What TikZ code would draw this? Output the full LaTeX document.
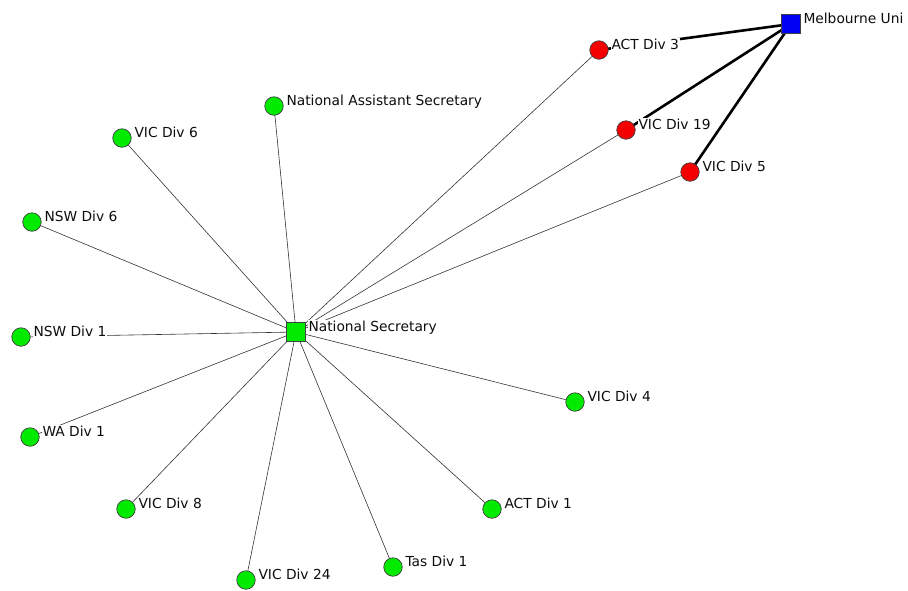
\documentclass[tikz,border=0pt]{standalone}
\usepackage{fontspec}
\setmainfont{DejaVu Sans}
\usetikzlibrary{calc}
\pgfdeclarelayer{edges}
\pgfdeclarelayer{labels}
\pgfsetlayers{edges,labels,main}
\definecolor{nodegreen}{RGB}{0,235,0}
\definecolor{nodered}{RGB}{245,0,0}
\definecolor{nodeblue}{RGB}{0,0,245}
\tikzset{
  member/.style={circle, minimum size=18.5pt, inner sep=0pt, draw=black!75, line width=0.7pt},
  office/.style={rectangle, minimum size=18.5pt, inner sep=0pt, draw=black!75, line width=0.7pt},
  lbl/.style={anchor=base west, fill=white, inner sep=0.8pt, font=\fontsize{13.8}{15}\selectfont, text=black!95},
  tie/.style={draw=black!80, line width=0.6pt},
  strongtie/.style={draw=black, line width=2.6pt},
}
\newcommand{\tag}[2]{\begin{pgfonlayer}{labels}\node[lbl] (#1-t) at ($(#1.center)+(11.5,-0.5)$) {#2};\end{pgfonlayer}}
\begin{document}
\begin{tikzpicture}[x=1pt,y=-1pt]
\useasboundingbox (0,0) rectangle (908,590);
% offices
\node[office, fill=nodegreen] (natsec) at (296,332) {};
\node[office, fill=nodeblue]  (melb)   at (791,24) {};
% divisions linked to Melbourne Uni
\node[member, fill=nodered] (act3)  at (599,50) {};
\node[member, fill=nodered] (vic19) at (626,130) {};
\node[member, fill=nodered] (vic5)  at (690,172) {};
% other members
\node[member, fill=nodegreen] (nas)   at (274,106) {};
\node[member, fill=nodegreen] (vic6)  at (122,138) {};
\node[member, fill=nodegreen] (nsw6)  at (32,222) {};
\node[member, fill=nodegreen] (nsw1)  at (21,337) {};
\node[member, fill=nodegreen] (wa1)   at (30,437) {};
\node[member, fill=nodegreen] (vic4)  at (575,402) {};
\node[member, fill=nodegreen] (vic8)  at (126,509) {};
\node[member, fill=nodegreen] (act1)  at (492,509) {};
\node[member, fill=nodegreen] (vic24) at (246,580) {};
\node[member, fill=nodegreen] (tas1)  at (393,567) {};
% ties
\begin{pgfonlayer}{edges}
\foreach \n in {act3,vic19,vic5,nas,vic6,nsw6,nsw1,wa1,vic4,vic8,act1,vic24,tas1}
  \draw[tie] (natsec.center) -- (\n.center);
\foreach \n in {act3,vic19,vic5}
  \draw[strongtie] (melb.center) -- (\n.center);
\end{pgfonlayer}
% labels
\tag{natsec}{National Secretary}
\tag{melb}{Melbourne Uni}
\tag{act3}{ACT Div 3}
\tag{vic19}{VIC Div 19}
\tag{vic5}{VIC Div 5}
\tag{nas}{National Assistant Secretary}
\tag{vic6}{VIC Div 6}
\tag{nsw6}{NSW Div 6}
\tag{nsw1}{NSW Div 1}
\tag{wa1}{WA Div 1}
\tag{vic4}{VIC Div 4}
\tag{vic8}{VIC Div 8}
\tag{act1}{ACT Div 1}
\tag{vic24}{VIC Div 24}
\tag{tas1}{Tas Div 1}
\end{tikzpicture}
\end{document}
